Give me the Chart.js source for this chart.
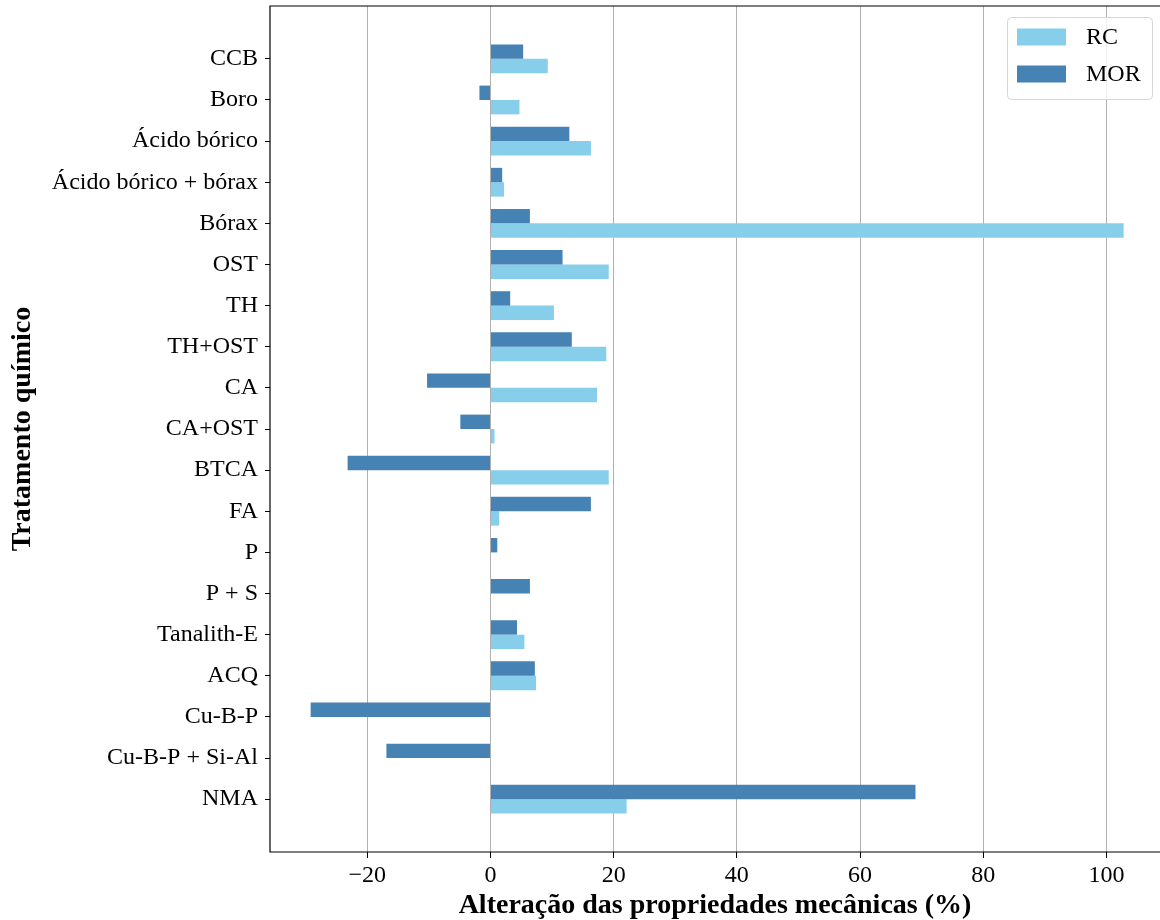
<!DOCTYPE html>
<html>
<head>
<meta charset="utf-8">
<script src="https://cdn.jsdelivr.net/npm/chart.js@4.4.1/dist/chart.umd.min.js"></script>
<style>
html, body { margin: 0; padding: 0; background: #fff; overflow: hidden; }
#wrap { width: 1160px; height: 920px; position: relative; }
</style>
</head>
<body>
<div id="wrap"><canvas id="chart"></canvas></div>
<script>
// Data
const categories = ['CCB', 'Boro', 'Ácido bórico', 'Ácido bórico + bórax', 'Bórax', 'OST', 'TH', 'TH+OST', 'CA', 'CA+OST',
    'BTCA', 'FA', 'P', 'P + S', 'Tanalith-E', 'ACQ', 'Cu-B-P', 'Cu-B-P + Si-Al', 'NMA'];
const rcValues = [9.3, 4.7, 16.3, 2.2, 102.8, 19.2, 10.3, 18.8, 17.3, 0.65, 19.2, 1.4, 0, 0, 5.5, 7.4, 0, 0, 22.1];
const morValues = [5.3, -1.8, 12.8, 1.9, 6.4, 11.7, 3.2, 13.2, -10.3, -4.9, -23.2, 16.3, 1.1, 6.4, 4.3, 7.2, -29.2, -16.9, 69.0];
const xTicks = [-20, 0, 20, 40, 60, 80, 100];

const FONT = "'Liberation Serif', 'DejaVu Serif', serif";
Chart.defaults.font.family = FONT;
Chart.defaults.color = '#000';

function toPoints(values) {
    return values.map((v, i) => ({ x: v, y: i }));
}

// Spines (the right one falls outside the picture)
const framePlugin = {
    id: 'frame',
    afterDraw(chart) {
        const { ctx, chartArea: a } = chart;
        ctx.save();
        ctx.strokeStyle = '#000';
        ctx.lineWidth = 1.2;
        ctx.beginPath();
        ctx.moveTo(a.right + 2, a.top);
        ctx.lineTo(a.left, a.top);
        ctx.lineTo(a.left, a.bottom);
        ctx.lineTo(a.right + 2, a.bottom);
        ctx.stroke();
        ctx.restore();
    }
};

// Legend in the upper right corner, inside the axes
const innerLegend = {
    id: 'innerLegend',
    afterDraw(chart) {
        const { ctx } = chart;
        const items = chart.data.datasets.slice().reverse();
        const x = 1007, y = 17, w = 145, h = 82;
        ctx.save();
        ctx.fillStyle = 'rgba(255,255,255,0.8)';
        ctx.strokeStyle = '#d6d6d6';
        ctx.lineWidth = 1;
        ctx.beginPath();
        ctx.roundRect(x + 0.5, y + 0.5, w, h, 4);
        ctx.fill();
        ctx.stroke();
        ctx.font = '24px ' + FONT;
        ctx.textBaseline = 'middle';
        items.forEach((ds, i) => {
            const cy = y + 20 + i * 37;
            ctx.fillStyle = ds.backgroundColor;
            ctx.fillRect(x + 10, cy - 8.5, 49, 17);
            ctx.fillStyle = '#000';
            ctx.fillText(ds.label, x + 79, cy + 1);
        });
        ctx.restore();
    }
};

new Chart(document.getElementById('chart'), {
    type: 'bar',
    data: {
        datasets: [{
            label: 'MOR',
            data: toPoints(morValues),
            backgroundColor: '#4682B4',
            categoryPercentage: 0.7,
            barPercentage: 1.0
        }, {
            label: 'RC',
            data: toPoints(rcValues),
            backgroundColor: '#87CEEB',
            categoryPercentage: 0.7,
            barPercentage: 1.0
        }]
    },
    options: {
        indexAxis: 'y',
        responsive: true,
        maintainAspectRatio: false,
        animation: false,
        layout: { padding: { top: 6, right: 0, left: 0, bottom: 0 } },
        plugins: {
            legend: { display: false },
            tooltip: { enabled: false }
        },
        scales: {
            x: {
                type: 'linear',
                min: -35.8,
                max: 108.7,
                afterBuildTicks: s => { s.ticks = xTicks.map(v => ({ value: v })); },
                afterFit: s => { s.height = 68; s.paddingLeft = 0; s.paddingRight = 0; },
                ticks: {
                    autoSkip: false,
                    maxRotation: 0,
                    padding: 3,
                    font: { size: 24 },
                    callback: v => v < 0 ? '\u2212' + Math.abs(v) : String(v)
                },
                grid: { color: '#b0b0b0', lineWidth: 1, tickLength: 6, tickColor: '#000' },
                border: { display: false },
                title: {
                    display: true,
                    text: 'Alteração das propriedades mecânicas (%)',
                    font: { size: 28, weight: 'bold' },
                    padding: { top: 0, bottom: -3 }
                }
            },
            y: {
                type: 'linear',
                reverse: true,
                offset: false,
                min: -1.285,
                max: 19.285,
                afterBuildTicks: s => { s.ticks = categories.map((c, i) => ({ value: i })); },
                afterFit: s => { s.width = 270; s.paddingTop = 0; s.paddingBottom = 0; },
                ticks: {
                    autoSkip: false,
                    padding: 7,
                    font: { size: 24 },
                    callback: v => categories[v]
                },
                grid: { offset: false, drawOnChartArea: false, tickLength: 5, tickColor: '#000' },
                border: { display: false },
                title: {
                    display: true,
                    text: 'Tratamento químico',
                    font: { size: 28, weight: 'bold' },
                    padding: { top: 6, bottom: 0 }
                }
            }
        }
    },
    plugins: [framePlugin, innerLegend]
});
</script>
</body>
</html>
